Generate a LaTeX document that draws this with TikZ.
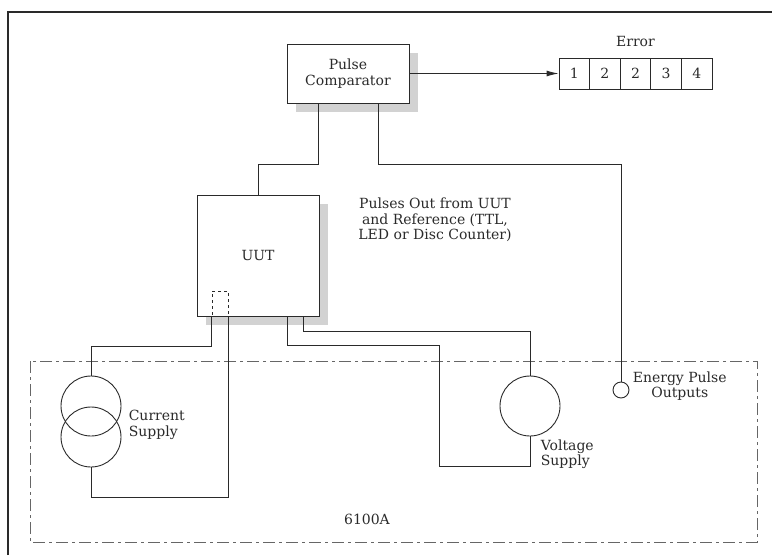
\documentclass[tikz,border=0pt]{standalone}
\usepackage{fontspec}
\setmainfont{DejaVu Serif}
\usetikzlibrary{shapes,arrows,positioning,calc,shadows,arrows.meta}
\definecolor{inkgray}{HTML}{2A2A2A}
\definecolor{shadowgray}{HTML}{D2D2D2}

\begin{document}
\begin{tikzpicture}[x=1pt, y=-1pt, line width=0.9pt, draw=inkgray,
    every node/.style={text=inkgray, font=\fontsize{14}{15.5}\selectfont},
    unitbox/.style={draw, rectangle, fill=white, align=center,
        drop shadow={shadow xshift=9pt, shadow yshift=-9pt, fill=shadowgray, opacity=1}},
    cellbox/.style={draw, rectangle, minimum width=30.6pt, minimum height=31pt, inner sep=0pt},
    source/.style={draw, circle, minimum size=60pt, inner sep=0pt}]
    \useasboundingbox (0,0) rectangle (772,555);
    \draw[line width=1.2pt] (8,555) -- (8,12) -- (772,12);

    % 6100A calibrator
    \draw[gray!80!black, dash pattern=on 12pt off 4pt on 3pt off 4pt] (30,361) rectangle (757,542);
    \node (cal) at (367,519) {6100A};

    \node (cmp) [unitbox, minimum width=122pt, minimum height=59pt] at (348,73.5) {Pulse\\Comparator};
    \node (uut) [unitbox, minimum width=122pt, minimum height=121pt] at (258,255.5) {UUT};
    \node (port) [draw, dashed, rectangle, minimum width=16pt, minimum height=25pt, inner sep=0pt] at (220,303.5) {};

    % error display
    \foreach \d [count=\i] in {1,2,2,3,4}
        \node (e\i) [cellbox] at (574.3+30.6*\i-30.6,73.5) {\d};
    \node (err) [above=7pt of e3] {Error};

    \node (cs1) [source] at (91,406) {};
    \node (cs2) [source] at (91,437) {};
    \node (vs) [source] at (530,406) {};
    \node (ep) [draw, circle, minimum size=16pt, inner sep=0pt] at (621,390) {};

    \node (cslabel) [anchor=west, align=left] at (125,425) {Current\\Supply};
    \node (vslabel) [anchor=west, align=left] at (537,454) {Voltage\\Supply};
    \node (eplabel) [anchor=west, align=center] at (629,386) {Energy Pulse\\Outputs};
    \node (pulses) [align=center] at (435,220) {Pulses Out from UUT\\and Reference (TTL,\\LED or Disc Counter)};

    \draw[-{Latex[length=12pt,width=6pt]}] (cmp.east |- e1) -- (e1.west);
    \draw ([xshift=-30]cmp.south) -- ++(0,61) -| (uut.north);
    \draw ([xshift=30]cmp.south) -- ++(0,61) -| (ep.north);
    \draw (port.south west) -- ++(0,30) -| (cs1.north);
    \draw (port.south east) -- ++(0,181) -| (cs2.south);
    \draw ([xshift=45]uut.south) -- ++(0,15) -| (vs.north);
    \draw ([xshift=29]uut.south) -- ++(0,29) -| ++(152,121) -| (vs.south);
\end{tikzpicture}
\end{document}
